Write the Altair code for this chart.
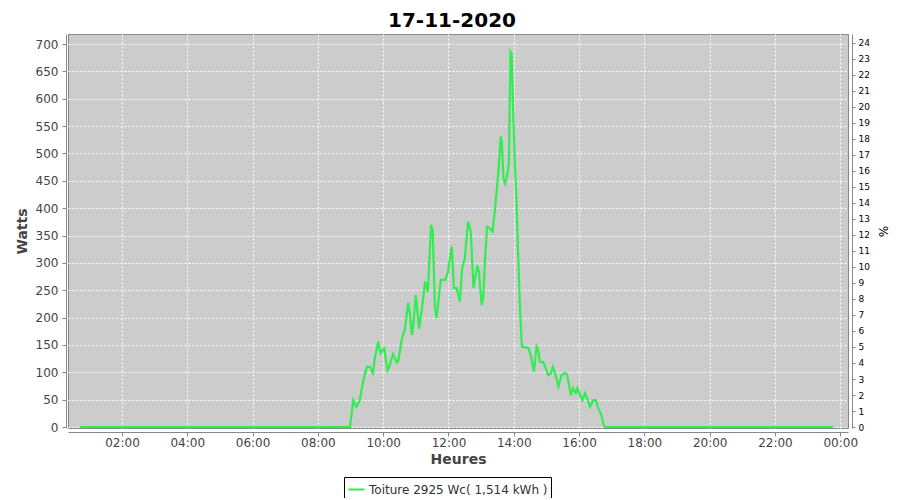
import altair as alt
import pandas as pd

# time of day in minutes after midnight
minutes = [43, 539, 545, 551, 557, 563, 570, 576, 581, 585, 591, 595, 602, 608, 611, 618, 625, 628,
           634, 640, 646, 649, 653, 655, 660, 666, 671, 677, 682, 688, 691, 695, 698, 701, 706, 714,
           719, 726, 730, 735, 741, 745, 750, 756, 761, 766, 769, 773, 776, 781, 784, 787, 791, 796,
           801, 806, 812, 816, 818, 821, 824, 828, 831, 834, 836, 839, 842, 845, 848, 852, 855, 867,
           872, 877, 882, 885, 888, 894, 899, 903, 908, 912, 916, 922, 928, 934, 938, 945, 949, 954,
           957, 962, 966, 971, 975, 980, 986, 991, 995, 1000, 1005, 1008, 1427]
watts = [0, 0, 49, 37, 49, 83, 110, 110, 98, 128, 156, 135, 144, 103, 110, 133, 118, 122,
         159, 180, 227, 208, 168, 183, 241, 180, 214, 266, 247, 369, 360, 220, 199, 226, 269, 269,
         284, 330, 254, 254, 229, 290, 308, 375, 357, 254, 272, 296, 284, 223, 238, 305, 366, 363,
         357, 403, 470, 531, 521, 455, 445, 461, 482, 686, 683, 573, 482, 412, 317, 202, 147, 144,
         128, 101, 147, 141, 119, 119, 107, 95, 98, 110, 98, 74, 95, 99, 95, 58, 71, 62,
         71, 58, 49, 62, 52, 37, 49, 49, 34, 25, 4, 0, 0]
series_name = "Toiture 2925 Wc( 1,514 kWh )"
peak_wc = 2925
x_ticks = [120, 240, 360, 480, 600, 720, 840, 960, 1080, 1200, 1320, 1440]
y_ticks = list(range(0, 701, 50))
pct_ticks = list(range(0, 25))

df = pd.DataFrame({"minute": minutes, "watts": watts})
df["series"] = series_name
df["pct"] = df["watts"] / peak_wc * 100

x_dom = [20.8, 1454.2]
y_dom = [-1.8, 718.3]
pct_dom = [y_dom[0] * 100 / peak_wc, y_dom[1] * 100 / peak_wc]

FONT = "DejaVu Sans"
label_expr = "format(floor(datum.value/60)%24, '02d') + ':00'"

x_enc = alt.X(
    "minute:Q",
    scale=alt.Scale(domain=x_dom, nice=False, zero=False),
    axis=alt.Axis(values=x_ticks, labelExpr=label_expr, title="Heures", grid=True,
                  offset=4, tickSize=4, labelPadding=1, titlePadding=4,
                  labelFontSize=12, labelFlush=False, labelOverlap=False),
)

line = alt.Chart(df).mark_line(strokeWidth=2.2).encode(
    x=x_enc,
    y=alt.Y("watts:Q",
            scale=alt.Scale(domain=y_dom, nice=False, zero=False),
            axis=alt.Axis(values=y_ticks, title="Watts", orient="left", grid=True,
                          offset=2, tickSize=4, labelPadding=4, titlePadding=6,
                          labelFontSize=12, labelFlush=False, labelOverlap=False)),
    color=alt.Color("series:N",
                    scale=alt.Scale(range=["#30EE50"]),
                    legend=alt.Legend(title=None, orient="none", legendX=276, legendY=443,
                                      direction="horizontal", strokeColor="#000000",
                                      fillColor="#FFFFFF", padding=3, symbolType="stroke",
                                      symbolSize=260, symbolStrokeWidth=2, labelFontSize=12,
                                      labelFont=FONT, labelColor="#333333", labelOffset=3,
                                      labelLimit=0)),
)

right = alt.Chart(df).mark_line(opacity=0).encode(
    x=x_enc,
    y=alt.Y("pct:Q",
            scale=alt.Scale(domain=pct_dom, nice=False, zero=False),
            axis=alt.Axis(values=pct_ticks, title="%", orient="right", grid=False,
                          offset=4, tickSize=3, labelPadding=3, titlePadding=6,
                          labelFontSize=9, labelColor="#000000", titleColor="#000000",
                          titleFontWeight="normal", titleFontSize=12,
                          labelFlush=False, labelOverlap=False)),
)

chart = alt.layer(line, right).resolve_scale(y="independent").properties(
    width=780,
    height=394,
    autosize=alt.AutoSizeParams(type="none"),
    padding={"left": 60, "top": 26, "right": 44, "bottom": 70},
    title=alt.TitleParams("17-11-2020", font=FONT, fontSize=20, fontWeight="bold",
                          color="#000000", anchor="middle", offset=3, dx=-6),
).configure_view(
    fill="#CCCCCC", stroke="#888888", strokeWidth=1
).configure_axis(
    domainColor="#888888", tickColor="#888888",
    labelFont=FONT, labelColor="#444444",
    titleFont=FONT, titleFontSize=14, titleFontWeight="bold", titleColor="#444444",
    gridColor="#FFFFFF", gridDash=[2, 2], gridWidth=1, gridOpacity=1,
)

chart.save("out.html", embed_options={"renderer": "svg", "actions": False})
